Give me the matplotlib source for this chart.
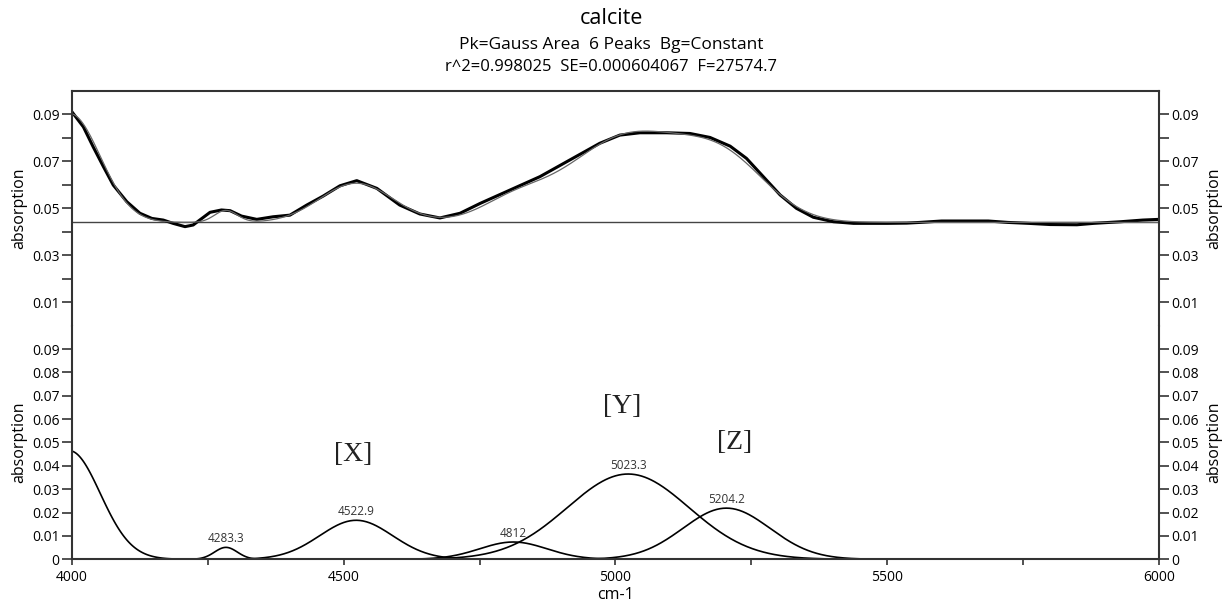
import numpy as np
import matplotlib
matplotlib.use("Agg")
import matplotlib.pyplot as plt
from matplotlib.ticker import FixedLocator, FuncFormatter

plt.rcParams['font.family'] = ['Open Sans', 'DejaVu Sans']

wavenumber = [4000, 4021, 4039, 4058, 4076, 4101, 4125, 4147, 4168, 4186,
              4208, 4223, 4235, 4254, 4275, 4291, 4312, 4340, 4370, 4401,
              4432, 4462, 4493, 4524, 4561, 4603, 4640, 4677, 4714, 4751,
              4806, 4861, 4916, 4971, 5008, 5045, 5094, 5137, 5174, 5211,
              5241, 5272, 5303, 5333, 5364, 5401, 5438, 5500, 5536, 5560,
              5600, 5686, 5722, 5760, 5800, 5849, 5880, 5930, 5970, 6000]
absorption = [0.0911, 0.0847, 0.0762, 0.0677, 0.0599, 0.0528, 0.0479, 0.0457, 0.0450, 0.0436,
              0.0422, 0.0429, 0.0450, 0.0483, 0.0493, 0.0490, 0.0467, 0.0453, 0.0464, 0.0471,
              0.0514, 0.0552, 0.0596, 0.0618, 0.0585, 0.0514, 0.0476, 0.0459, 0.0479, 0.0521,
              0.0578, 0.0635, 0.0706, 0.0777, 0.0812, 0.0822, 0.0822, 0.0819, 0.0802, 0.0765,
              0.0713, 0.0635, 0.0557, 0.0500, 0.0462, 0.0443, 0.0436, 0.0436, 0.0437, 0.0440,
              0.0446, 0.0446, 0.0440, 0.0436, 0.0431, 0.0430, 0.0436, 0.0443, 0.0450, 0.0453]

# gauss peaks of the fit
baseline = 0.044
peak_centers = [3995, 4283.3, 4522.9, 4812, 5023.3, 5204.2]
peak_heights = [0.0465, 0.0051, 0.0167, 0.0074, 0.0365, 0.0219]
peak_sigmas = [57, 21, 67, 62, 112, 80]
peak_labels = ['', '4283.3', '4522.9', '4812', '5023.3', '5204.2']

band_names = ['[X]', '[Y]', '[Z]']
band_x = [4517, 5013, 5220]
band_y = [0.045, 0.0656, 0.0499]

xs = np.linspace(4000, 6000, 1001)
peaks = [h * np.exp(-(xs - c) ** 2 / (2 * s ** 2))
         for c, h, s in zip(peak_centers, peak_heights, peak_sigmas)]
fit = baseline + np.sum(peaks, axis=0)

fig = plt.figure(figsize=(12.22, 6.01), dpi=100)
ax_top = fig.add_axes([0.0589, 0.4581, 0.8895, 0.3905])
ax_bot = fig.add_axes([0.0589, 0.0694, 0.8895, 0.3887])

spine_col = '#333333'
lab_fs = 10

#---------------- top panel: data + fit ----------------
ax_top.axhline(baseline, color='#444444', lw=1.0)
ax_top.plot(wavenumber, absorption, color='black', lw=2.2, solid_joinstyle='round')
ax_top.plot(xs, fit, color='#666666', lw=0.9)
ax_top.set_xlim(4000, 6000)
ax_top.set_ylim(0, 0.1)
ax_top.spines['bottom'].set_visible(False)
ax_top.set_xticks([])
ax_top.yaxis.set_major_locator(FixedLocator([0.01, 0.03, 0.05, 0.07, 0.09]))
ax_top.yaxis.set_minor_locator(FixedLocator([0.02, 0.04, 0.06, 0.08]))
ax_top.yaxis.set_major_formatter(FuncFormatter(lambda v, p: f"{v:.2f}"))
ax_top.tick_params(axis='y', which='both', left=True, right=True, labelright=True,
                   direction='out', length=7, width=1.2, color=spine_col,
                   labelsize=lab_fs, pad=2)

#---------------- bottom panel: peaks ----------------
for c, pk, lbl in zip(peak_centers, peaks, peak_labels):
    mask = pk > 1e-4
    ax_bot.plot(xs[mask], pk[mask], color='black', lw=1.2)
for c, h, lbl in zip(peak_centers, peak_heights, peak_labels):
    if lbl:
        ax_bot.annotate(lbl, (c, h), xytext=(0, 1.5), textcoords='offset points',
                        ha='center', va='bottom', fontsize=8.5, color='#333333')
for name, bx, by in zip(band_names, band_x, band_y):
    ax_bot.text(bx, by, name, ha='center', va='center', fontsize=20,
                family='Liberation Serif', color='#222222')

ax_bot.set_xlim(4000, 6000)
ax_bot.set_ylim(0, 0.1)
ax_bot.spines['top'].set_visible(False)
ax_bot.yaxis.set_major_locator(FixedLocator([0, 0.01, 0.02, 0.03, 0.04, 0.05, 0.06, 0.07, 0.08, 0.09]))
ax_bot.yaxis.set_major_formatter(FuncFormatter(lambda v, p: '0' if v == 0 else f"{v:.2f}"))
ax_bot.tick_params(axis='y', left=True, right=True, labelright=True, direction='out',
                   length=7, width=1.2, color=spine_col, labelsize=lab_fs, pad=2)
ax_bot.xaxis.set_major_locator(FixedLocator([4000, 4500, 5000, 5500, 6000]))
ax_bot.xaxis.set_minor_locator(FixedLocator([4250, 4750, 5250, 5750]))
ax_bot.tick_params(axis='x', which='both', direction='out', length=4, width=1.2,
                   color=spine_col, labelsize=lab_fs, pad=4)
ax_bot.set_xlabel('cm-1', fontsize=11.5, labelpad=1)

for ax in (ax_top, ax_bot):
    for sp in ax.spines.values():
        sp.set_color(spine_col)
        sp.set_linewidth(1.5)
    ax.set_ylabel('absorption', fontsize=11.5, labelpad=3)
    ax.text(1.051, 0.5, 'absorption', transform=ax.transAxes, rotation=90,
            ha='center', va='center', fontsize=11.5)

fig.text(0.5, 0.970, 'calcite', ha='center', va='center', fontsize=15.5)
fig.text(0.5, 0.925, 'Pk=Gauss Area  6 Peaks  Bg=Constant', ha='center', va='center', fontsize=12.5)
fig.text(0.5, 0.888, 'r^2=0.998025  SE=0.000604067  F=27574.7', ha='center', va='center', fontsize=12)

fig.savefig('out.png', dpi=100)
